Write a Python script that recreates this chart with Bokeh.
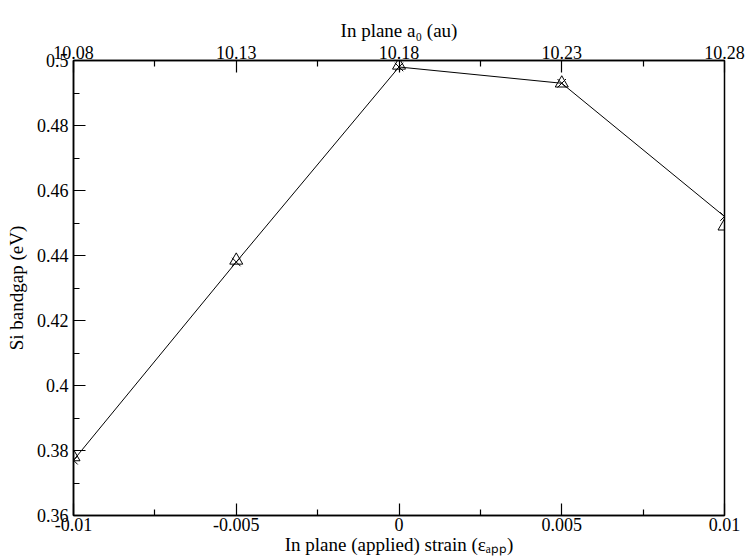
from bokeh.plotting import figure
from bokeh.models import Range1d, LinearAxis, FixedTicker
from bokeh.embed import file_html
from bokeh.resources import INLINE

# Data
strain = [-0.01, -0.005, 0.0, 0.005, 0.01]
gap_cross = [0.377, 0.438, 0.498, 0.493, 0.452]
gap_triangle = [0.378, 0.4385, 0.4985, 0.493, 0.449]

# Axis ticks
x_ticks = [-0.01, -0.005, 0.0, 0.005, 0.01]
x_tick_labels = ["-0.01", "-0.005", "0", "0.005", "0.01"]
x_minor = [-0.0075, -0.0025, 0.0025, 0.0075]
y_ticks = [0.36, 0.38, 0.40, 0.42, 0.44, 0.46, 0.48, 0.50]
y_tick_labels = ["0.36", "0.38", "0.4", "0.42", "0.44", "0.46", "0.48", "0.5"]
y_minor = [0.37, 0.39, 0.41, 0.43, 0.45, 0.47, 0.49]
a0_ticks = [10.08, 10.13, 10.18, 10.23, 10.28]
a0_tick_labels = ["10.08", "10.13", "10.18", "10.23", "10.28"]
a0_minor = [10.105, 10.155, 10.205, 10.255]

FONT = "Liberation Serif"

p = figure(width=745, height=560, output_backend="svg", toolbar_location=None,
           x_range=Range1d(-0.01, 0.01), y_range=Range1d(0.36, 0.5),
           min_border_left=73, min_border_right=21,
           min_border_top=60, min_border_bottom=45)
p.extra_x_ranges = {"a0": Range1d(10.08, 10.28)}
p.grid.visible = False
p.outline_line_color = "black"
p.outline_line_width = 1.5
p.background_fill_color = "white"
p.border_fill_color = "white"

bottom = p.below[0]
left = p.left[0]
top = LinearAxis(x_range_name="a0")
p.add_layout(top, "above")


def style(ax, ticks, minor, labels, label_text):
    ax.ticker = FixedTicker(ticks=ticks, minor_ticks=minor)
    ax.major_label_overrides = {t: l for t, l in zip(ticks, labels)}
    ax.axis_label = label_text
    ax.axis_label_text_font = FONT
    ax.axis_label_text_font_style = "normal"
    ax.axis_label_text_font_size = "19px"
    ax.axis_label_text_color = "black"
    ax.major_label_text_font = FONT
    ax.major_label_text_font_size = "18px"
    ax.major_label_text_color = "black"
    ax.axis_line_color = "black"
    ax.axis_line_width = 1.5
    ax.major_tick_line_color = "black"
    ax.minor_tick_line_color = "black"
    ax.major_tick_line_width = 1.2
    ax.minor_tick_line_width = 1.2
    ax.major_tick_in = 12
    ax.major_tick_out = 0
    ax.minor_tick_in = 6
    ax.minor_tick_out = 0


style(bottom, x_ticks, x_minor, x_tick_labels, "In plane (applied) strain (εₐₚₚ)")
style(left, y_ticks, y_minor, y_tick_labels, "Si bandgap (eV)")
style(top, a0_ticks, a0_minor, a0_tick_labels, "In plane a₀ (au)")

bottom.major_label_standoff = 2
bottom.axis_label_standoff = 0
left.major_label_standoff = 5
left.axis_label_standoff = 7
top.major_label_standoff = 2
top.axis_label_standoff = 2

p.line(strain, gap_cross, line_color="black", line_width=1)
p.scatter(strain, gap_cross, marker="x", size=12, line_color="black", line_width=1)
p.scatter(strain, gap_triangle, marker="triangle", size=13, fill_color=None,
          line_color="black", line_width=1)

open("out.html", "w").write(file_html(p, INLINE))
